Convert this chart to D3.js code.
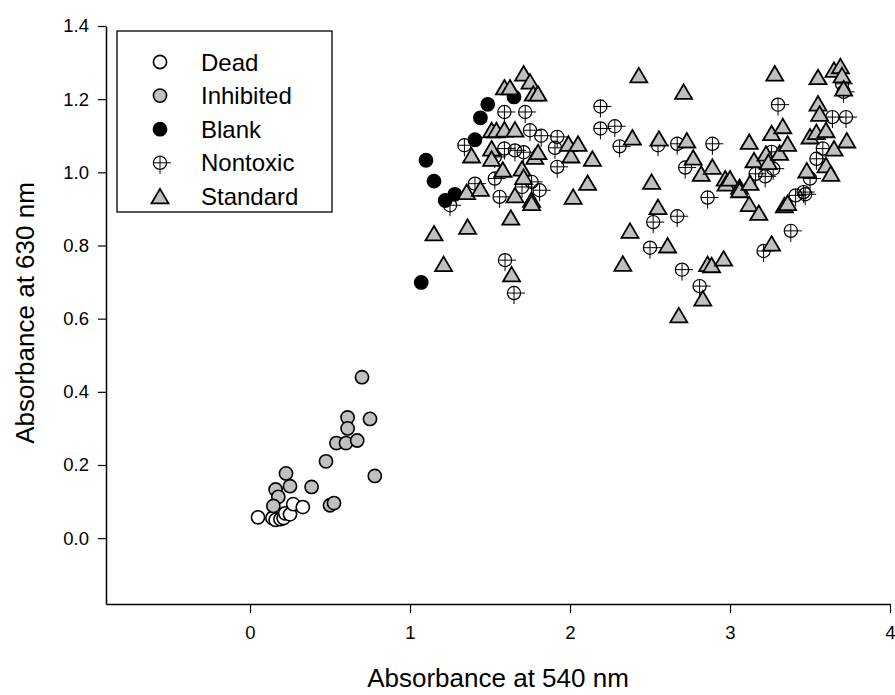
<!DOCTYPE html>
<html>
<head>
<meta charset="utf-8">
<script src="https://cdn.jsdelivr.net/npm/d3@7"></script>
<style>
  body { margin: 0; background: #fff; }
  svg { font-family: "Liberation Sans", Arial, sans-serif; }
</style>
</head>
<body>
<svg id="chart" width="895" height="695"></svg>
<script>

// [absorbance 540, absorbance 630]
const dead = [
  [0.05,0.057],[0.14,0.055],[0.16,0.05],[0.19,0.052],[0.21,0.055],
  [0.22,0.068],[0.25,0.065],[0.27,0.093],[0.33,0.085]
];

const inhibited = [
  [0.70,0.44],[0.61,0.33],[0.61,0.30],[0.75,0.326],[0.54,0.26],[0.60,0.26],
  [0.67,0.267],[0.475,0.21],[0.78,0.17],[0.225,0.177],[0.16,0.133],[0.25,0.142],
  [0.385,0.14],[0.177,0.113],[0.146,0.088],[0.50,0.09],[0.525,0.096]
];

const blank = [
  [1.07,0.699],[1.10,1.033],[1.15,0.976],[1.22,0.923],[1.28,0.94],
  [1.406,1.089],[1.44,1.149],[1.486,1.186],[1.65,1.206]
];

const nontoxic = [
  [1.25,0.91],[1.34,1.074],[1.406,0.969],[1.53,0.983],[1.53,1.042],[1.56,0.933],
  [1.59,1.165],[1.59,1.065],[1.594,0.76],[1.65,0.67],[1.656,1.06],[1.70,0.96],
  [1.71,1.055],[1.72,1.165],[1.75,1.115],[1.76,0.974],[1.81,0.951],[1.82,1.10],
  [1.906,1.067],[1.92,1.097],[1.92,1.015],[2.19,1.18],[2.19,1.12],[2.28,1.126],
  [2.31,1.071],[2.50,0.794],[2.52,0.864],[2.55,1.074],[2.67,1.078],[2.67,0.88],
  [2.70,0.734],[2.72,1.013],[2.81,0.689],[2.86,0.931],[2.89,1.078],[3.16,0.996],
  [3.21,0.785],[3.22,0.989],[3.26,1.056],[3.27,1.01],[3.30,1.185],[3.38,0.84],
  [3.41,0.937],[3.46,0.946],[3.47,0.94],[3.50,0.983],[3.54,1.037],[3.58,1.065],
  [3.64,1.151],[3.70,1.242],[3.71,1.22],[3.725,1.151]
];

const standard = [
  [1.15,0.833],[1.21,0.749],[1.354,0.946],[1.36,0.851],[1.385,1.046],[1.44,0.955],
  [1.51,1.115],[1.51,1.065],[1.51,1.037],[1.54,1.115],[1.58,1.007],[1.59,1.232],
  [1.59,1.117],[1.625,1.232],[1.63,0.876],[1.635,0.721],[1.656,1.117],[1.656,0.937],
  [1.70,1.01],[1.71,1.27],[1.71,0.987],[1.75,1.248],[1.76,0.925],[1.76,0.916],
  [1.77,1.215],[1.78,1.042],[1.80,1.215],[1.80,1.055],[1.99,1.078],[2.006,1.046],
  [2.02,0.933],[2.05,1.078],[2.11,0.971],[2.14,1.037],[2.33,0.75],[2.375,0.84],
  [2.39,1.095],[2.43,1.265],[2.51,0.974],[2.55,0.905],[2.556,1.092],[2.61,0.80],
  [2.68,0.609],[2.71,1.22],[2.73,1.087],[2.77,1.04],[2.82,0.996],[2.83,0.655],
  [2.86,0.749],[2.885,0.746],[2.89,1.015],[2.96,0.764],[2.97,0.983],[2.975,0.969],
  [3.00,0.983],[3.06,0.96],[3.06,0.951],[3.12,1.083],[3.12,0.913],[3.125,0.971],
  [3.15,1.033],[3.18,0.889],[3.225,1.051],[3.24,1.028],[3.26,1.107],[3.26,0.805],
  [3.28,1.27],[3.31,1.053],[3.33,1.126],[3.34,0.91],[3.36,1.078],[3.36,0.916],
  [3.48,1.005],[3.50,1.098],[3.54,1.11],[3.55,1.26],[3.55,1.188],[3.56,1.16],
  [3.60,1.115],[3.60,1.019],[3.63,0.996],[3.65,1.28],[3.65,1.065],[3.69,1.29],
  [3.70,1.265],[3.71,1.229],[3.73,1.087]
];

const xTicks = [0, 1, 2, 3, 4];
const yTicks = [0, 0.2, 0.4, 0.6, 0.8, 1.0, 1.2, 1.4];
const legendLabels = ['Dead', 'Inhibited', 'Blank', 'Nontoxic', 'Standard'];

const GRAY = '#c0c0c0';

const svg = d3.select('#chart');

const x = d3.scaleLinear().domain([-0.9, 4]).range([106, 890]);
const y = d3.scaleLinear().domain([-0.18, 1.4]).range([604, 26]);

// axes
const bottomAxis = d3.axisBottom(x).tickValues(xTicks).tickFormat(d3.format('d'))
  .tickSize(9).tickSizeOuter(0).tickPadding(13);
const leftAxis = d3.axisLeft(y).tickValues(yTicks).tickFormat(d3.format('.1f'))
  .tickSize(8).tickSizeOuter(0).tickPadding(9);

const gx = svg.append('g').attr('transform', 'translate(0,604)').call(bottomAxis);
const gy = svg.append('g').attr('transform', 'translate(106,0)').call(leftAxis);

[gx, gy].forEach(g => {
  g.selectAll('path.domain').attr('stroke', '#000').attr('stroke-width', 1.5);
  g.selectAll('.tick line').attr('stroke', '#000').attr('stroke-width', 1.2);
  g.selectAll('.tick text').attr('fill', '#000').style('font-size', '18.5px')
    .style('font-family', '"Liberation Sans", Arial, sans-serif');
});

svg.append('text')
  .attr('x', 498).attr('y', 687)
  .attr('text-anchor', 'middle')
  .style('font-size', '26px')
  .text('Absorbance at 540 nm');

svg.append('text')
  .attr('transform', 'translate(34,313) rotate(-90)')
  .attr('text-anchor', 'middle')
  .style('font-size', '26px')
  .text('Absorbance at 630 nm');

// marker helpers
const drawCircle = (g, cx, cy, fill) => g.append('circle')
  .attr('cx', cx).attr('cy', cy).attr('r', 6.6)
  .attr('fill', fill).attr('stroke', '#000').attr('stroke-width', 1.6);

const drawCross = (g, cx, cy) => {
  g.append('circle').attr('cx', cx).attr('cy', cy).attr('r', 6.6)
    .attr('fill', 'none').attr('stroke', '#000').attr('stroke-width', 1.2);
  g.append('line').attr('x1', cx - 6.6).attr('x2', cx + 11).attr('y1', cy).attr('y2', cy)
    .attr('stroke', '#000').attr('stroke-width', 1);
  g.append('line').attr('x1', cx).attr('x2', cx).attr('y1', cy - 6.6).attr('y2', cy + 11)
    .attr('stroke', '#000').attr('stroke-width', 1);
};

const drawTriangle = (g, cx, cy) => g.append('path')
  .attr('d', `M${cx},${cy - 7.5}L${cx + 8.5},${cy + 7}L${cx - 8.5},${cy + 7}Z`)
  .attr('fill', GRAY).attr('stroke', '#000').attr('stroke-width', 1.8)
  .attr('stroke-linejoin', 'miter');

const plot = svg.append('g');

dead.forEach(d => drawCircle(plot, x(d[0]), y(d[1]), '#fff'));
inhibited.forEach(d => drawCircle(plot, x(d[0]), y(d[1]), GRAY));
blank.forEach(d => drawCircle(plot, x(d[0]), y(d[1]), '#000'));
nontoxic.forEach(d => drawCross(plot, x(d[0]), y(d[1])));
standard.forEach(d => drawTriangle(plot, x(d[0]), y(d[1])));

// legend
const legend = svg.append('g');
legend.append('rect')
  .attr('x', 117).attr('y', 31).attr('width', 215).attr('height', 181)
  .attr('fill', '#fff').attr('stroke', '#000').attr('stroke-width', 1.3);

const rowY = i => 62 + i * 33.6;
drawCircle(legend, 160, rowY(0), '#fff');
drawCircle(legend, 160, rowY(1), GRAY);
drawCircle(legend, 160, rowY(2), '#000');
drawCross(legend, 160, rowY(3));
drawTriangle(legend, 160, rowY(4));

legendLabels.forEach((t, i) => {
  legend.append('text')
    .attr('x', 201).attr('y', rowY(i))
    .attr('dy', '0.36em')
    .style('font-size', '24px')
    .text(t);
});

</script>
</body>
</html>
